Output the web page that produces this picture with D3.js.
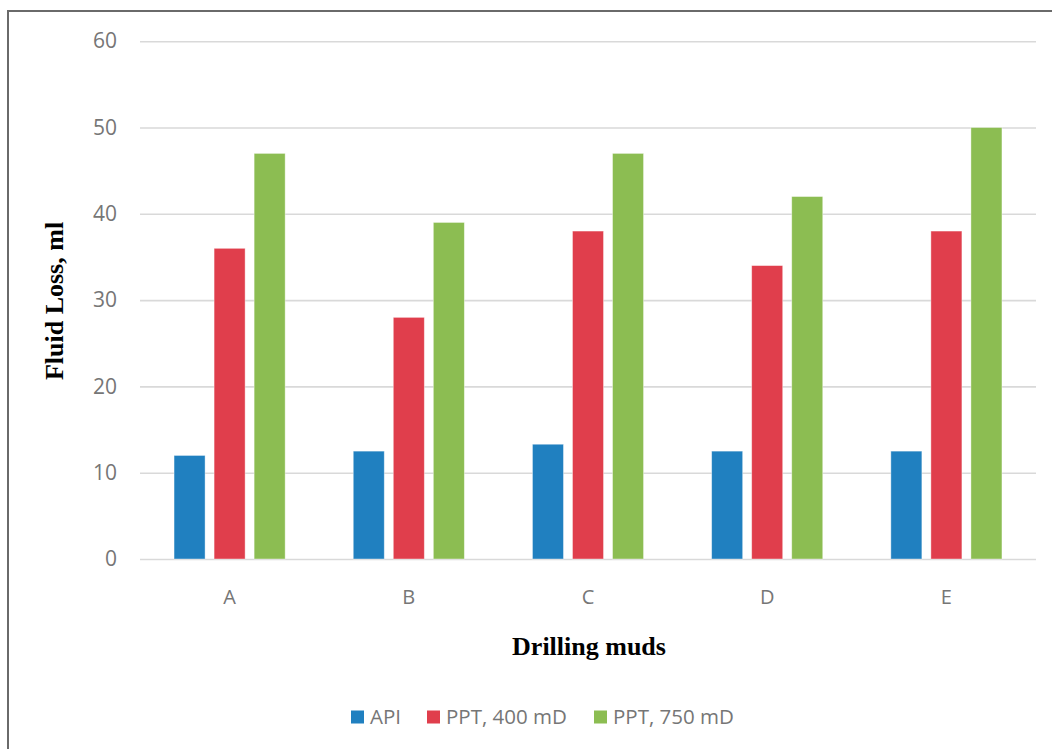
<!DOCTYPE html>
<html>
<head>
<meta charset="utf-8">
<script src="https://cdn.jsdelivr.net/npm/d3@7"></script>
<style>
  html, body { margin: 0; padding: 0; background: #fff; }
  svg { display: block; }
</style>
</head>
<body>
<svg id="chart" width="1052" height="749"></svg>
<script>
const categories = ["A", "B", "C", "D", "E"];
const seriesNames = ["API", "PPT, 400 mD", "PPT, 750 mD"];
const apiValues = [12, 12.5, 13.3, 12.5, 12.5];
const ppt400Values = [36, 28, 38, 34, 38];
const ppt750Values = [47, 39, 47, 42, 50];
const yTicks = [0, 10, 20, 30, 40, 50, 60];
const colors = ["#2080c0", "#e03e4c", "#8cbd52"];

const seriesValues = [apiValues, ppt400Values, ppt750Values];

const svg = d3.select("#chart");
const W = 1052, H = 749;
const plotLeft = 140, plotRight = 1036, plotTop = 41.2, plotBottom = 559;
const sans = "'Open Sans', 'Noto Sans', sans-serif";
const serif = "'Liberation Serif', 'Times New Roman', serif";

// Outer frame (top and left edges visible)
svg.append("line").attr("x1", 8).attr("x2", W + 5).attr("y1", 11).attr("y2", 11)
  .attr("stroke", "#6a6a6a").attr("stroke-width", 2);
svg.append("line").attr("x1", 8).attr("x2", 8).attr("y1", 10).attr("y2", H + 5)
  .attr("stroke", "#6a6a6a").attr("stroke-width", 2);

const y = d3.scaleLinear().domain([0, 60]).range([plotBottom, plotTop]);
const x0 = d3.scaleBand().domain(categories).range([plotLeft, plotRight]).paddingInner(0.38).paddingOuter(0.19);
const x1 = d3.scaleBand().domain(seriesNames).range([0, x0.bandwidth()]).paddingInner(0.225);

// Gridlines + y labels via axis
const yAxis = d3.axisLeft(y).tickValues(yTicks).tickSize(-(plotRight - plotLeft)).tickPadding(23);
const gy = svg.append("g").attr("transform", `translate(${plotLeft},0)`).call(yAxis);
gy.select(".domain").remove();
gy.selectAll(".tick line").attr("stroke", "#d9d9d9").attr("stroke-width", 1.6);
gy.selectAll(".tick text").attr("fill", "#767676").attr("font-family", sans).attr("font-size", 21);

// Bars
const groups = svg.append("g").selectAll("g").data(categories).join("g")
  .attr("transform", d => `translate(${x0(d)},0)`);
groups.selectAll("rect")
  .data((c, i) => seriesNames.map((s, k) => ({ s, k, v: seriesValues[k][i] })))
  .join("rect")
  .attr("x", d => x1(d.s))
  .attr("y", d => y(d.v))
  .attr("width", x1.bandwidth())
  .attr("height", d => y(0) - y(d.v))
  .attr("fill", d => colors[d.k])
  .attr("stroke", "#ffffff")
  .attr("stroke-opacity", 0.5)
  .attr("stroke-width", 0.8);

// x axis labels
const xAxis = d3.axisBottom(x0).tickSize(0).tickPadding(31);
const gx = svg.append("g").attr("transform", `translate(0,${plotBottom})`).call(xAxis);
gx.select(".domain").remove();
gx.selectAll(".tick text").attr("fill", "#767676").attr("font-family", sans).attr("font-size", 20);

// Axis titles
svg.append("text").attr("x", 589).attr("y", 655).attr("text-anchor", "middle")
  .attr("font-family", serif).attr("font-weight", "bold")
  .attr("font-size", 26).attr("fill", "#000").text("Drilling muds");
svg.append("text").attr("transform", "translate(63,301) rotate(-90)").attr("text-anchor", "middle")
  .attr("font-family", serif).attr("font-weight", "bold")
  .attr("font-size", 26).attr("fill", "#000").text("Fluid Loss, ml");

// Legend
const legendX = [351, 427, 594];
const lg = svg.append("g").selectAll("g").data(seriesNames).join("g")
  .attr("transform", (d, i) => `translate(${legendX[i]},717)`);
lg.append("rect").attr("x", 0).attr("y", -6.5).attr("width", 13).attr("height", 13)
  .attr("fill", (d, i) => colors[i]);
lg.append("text").attr("x", 19).attr("y", 0).attr("dy", "0.35em")
  .attr("fill", "#767676").attr("font-family", sans).attr("font-size", 20.5)
  .text(d => d);
</script>
</body>
</html>
